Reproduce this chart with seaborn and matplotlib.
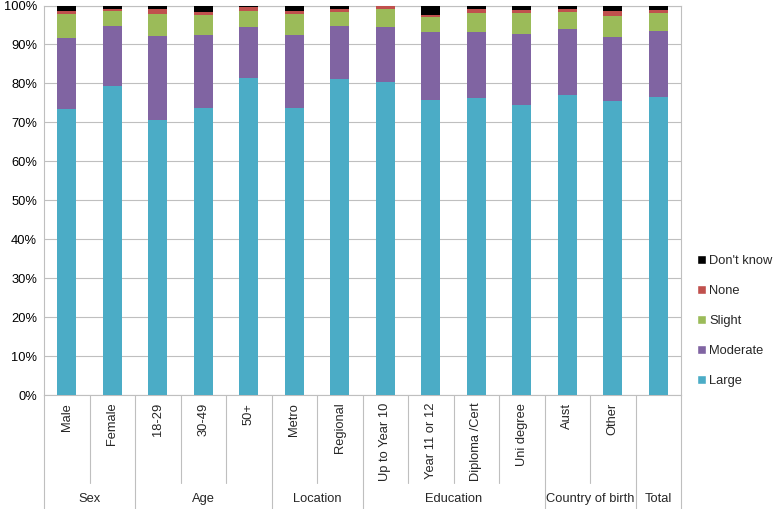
import matplotlib
matplotlib.use("Agg")
import matplotlib.pyplot as plt
from matplotlib.patches import Patch
from matplotlib.ticker import PercentFormatter
import numpy as np
import pandas as pd
import seaborn as sns

# bar categories and their group labels
categories = ["Male", "Female", "18-29", "30-49", "50+", "Metro", "Regional",
              "Up to Year 10", "Year 11 or 12", "Diploma /Cert", "Uni degree",
              "Aust", "Other", "Total"]
tick_labels = ["Male", "Female", "18-29", "30-49", "50+", "Metro", "Regional",
               "Up to Year 10", "Year 11 or 12", "Diploma /Cert", "Uni degree",
               "Aust", "Other", ""]
groups = ["Sex", "Age", "Location", "Education", "Country of birth", "Total"]
group_sizes = [2, 3, 2, 4, 2, 1]

# percentages per response
large = [73.4, 79.3, 70.6, 73.8, 81.3, 73.7, 81.2, 80.3, 75.7, 76.2, 74.4, 76.9, 75.4, 76.4]
moderate = [18.3, 15.4, 21.5, 18.6, 13.3, 18.7, 13.6, 14.3, 17.5, 17.0, 18.3, 17.0, 16.4, 17.0]
slight = [6.0, 3.8, 5.8, 5.2, 4.1, 5.5, 3.5, 4.6, 3.9, 5.0, 5.5, 4.5, 5.6, 4.8]
none = [0.9, 0.7, 1.1, 0.7, 0.9, 0.8, 0.9, 0.6, 0.5, 1.0, 0.7, 0.6, 1.1, 0.7]
dont_know = [1.4, 0.8, 1.0, 1.7, 0.4, 1.3, 0.8, 0.2, 2.4, 0.8, 1.1, 1.0, 1.5, 1.1]

series = ["Large", "Moderate", "Slight", "None", "Don't know"]
colors = {"Large": "#4BACC6", "Moderate": "#8064A2", "Slight": "#9BBB59",
          "None": "#C0504D", "Don't know": "#000000"}

df = pd.DataFrame({"category": categories, "Large": large, "Moderate": moderate,
                   "Slight": slight, "None": none, "Don't know": dont_know})
cum = df[series].cumsum(axis=1)
cum["category"] = df["category"]

sns.set_style("white")
plt.rcParams["font.family"] = ["Liberation Sans", "DejaVu Sans"]
FS = 9.3

fig = plt.figure(figsize=(7.78, 5.09), dpi=100)
ax = fig.add_axes([44 / 778, 1 - 395 / 509, (681 - 44) / 778, (395 - 5.5) / 509])

# overlay cumulative totals, tallest first, to get stacked bars
for s in reversed(series):
    sns.barplot(data=cum, x="category", y=s, color=colors[s], width=0.41,
                saturation=1, ax=ax, zorder=3, linewidth=0)

ax.set_xlim(-0.5, len(categories) - 0.5)
ax.set_ylim(0, 100)
ax.set_yticks(np.arange(0, 101, 10))
ax.yaxis.set_major_formatter(PercentFormatter(decimals=0))
ax.tick_params(axis="y", labelsize=FS, length=0, pad=5, colors="#000000")
ax.set_xticks([])
ax.set_xlabel("")
ax.set_ylabel("")
ax.grid(axis="y", color="#BFBFBF", linewidth=0.8, zorder=0)
for sp in ax.spines.values():
    sp.set_color("#BFBFBF")
    sp.set_linewidth(0.8)

# category table under the axis
trans = ax.get_xaxis_transform()
line_kw = dict(color="#BFBFBF", linewidth=0.8, clip_on=False, transform=trans)
for i, lab in enumerate(tick_labels):
    ax.text(i, -0.02, lab, rotation=90, ha="center", va="top", fontsize=FS, transform=trans)

edges = np.concatenate([[0], np.cumsum(group_sizes)]) - 0.5
for e in edges:
    ax.plot([e, e], [0, -0.293], **line_kw)
for start, size in zip(edges[:-1], group_sizes):
    for k in range(1, size):
        ax.plot([start + k, start + k], [0, -0.226], **line_kw)
for g, start, size in zip(groups, edges[:-1], group_sizes):
    ax.text(start + size / 2, -0.267, g, ha="center", va="center", fontsize=FS, transform=trans)

handles = [Patch(facecolor=colors[s], label=s) for s in reversed(series)]
fig.legend(handles=handles, loc="center left", bbox_to_anchor=(697 / 778, 1 - 321 / 509),
           frameon=False, fontsize=FS, handlelength=0.7, handleheight=0.7,
           handletextpad=0.25, labelspacing=1.4, borderaxespad=0, borderpad=0)

fig.savefig("out.png", dpi=100)
